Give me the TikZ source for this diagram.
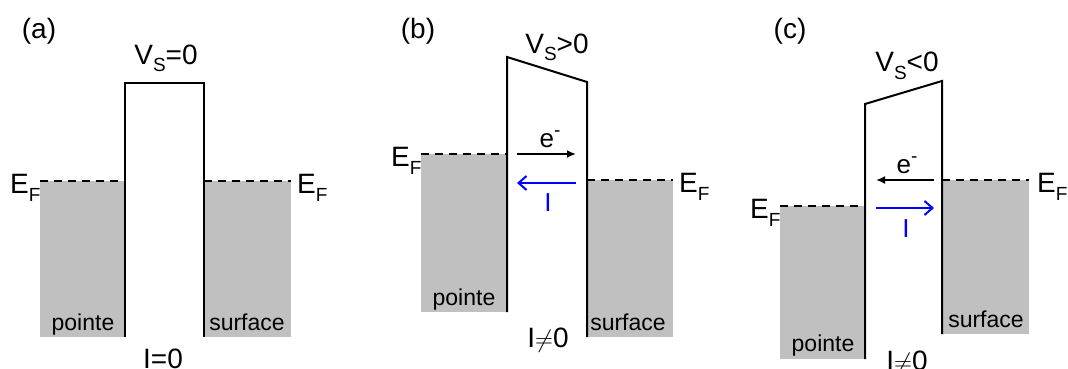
\documentclass[tikz,border=0pt]{standalone}
\usepackage{fontspec}
\setmainfont{Liberation Sans}
\usepackage{xcolor}
\usetikzlibrary{arrows.meta}
\definecolor{metalgray}{RGB}{192,192,192}
\newcommand{\lowidx}[1]{\raisebox{-8pt}{\fontsize{19}{19}\selectfont #1}}
\newcommand{\highidx}[1]{\raisebox{11pt}{\fontsize{19}{19}\selectfont #1}}

\begin{document}
\begin{tikzpicture}[
    x=1pt, y=-1pt,
    lbl/.style={inner sep=0pt, font=\fontsize{28}{30}\selectfont, anchor=base},
    level/.style={inner sep=0pt, font=\fontsize{28}{30}\selectfont, anchor=base west},
    side/.style={inner sep=0pt, font=\fontsize{23}{25}\selectfont, anchor=base},
    carrier/.style={inner sep=0pt, font=\fontsize{26}{28}\selectfont, anchor=base},
    metal/.style={fill=metalgray, draw=none},
    wall/.style={line width=2pt, line join=miter},
    fermi/.style={line width=2pt, dash pattern=on 8pt off 6pt},
    electron/.style={line width=2pt, -{Latex[length=9pt,width=8pt]}},
    current/.style={line width=2pt, blue, -{Straight Barb[length=8pt,width=14pt]}}
]
\useasboundingbox (0,0) rectangle (1068,369);

% (a) no bias
\fill[metal] (40,181) rectangle (125,337);
\fill[metal] (204,181) rectangle (291,337);
\draw[fermi] (40,181) -- (125,181);
\draw[fermi] (204,181) -- (291,181);
\draw[wall] (125,337) -- (125,83) -- (204,83) -- (204,337);
\node[lbl] (ta) at (39,39) {(a)};
\node[lbl] (va) at (166,64) {V\lowidx{S}=0};
\node[level] (efa-l) at (10,193) {E\lowidx{F}};
\node[level] (efa-r) at (297,193) {E\lowidx{F}};
\node[side] (tipa) at (83,330) {pointe};
\node[side] (sura) at (247,330) {surface};
\node[lbl] (ia) at (163,368) {I=0};

% (b) positive bias
\fill[metal] (421,154) rectangle (507,312);
\fill[metal] (587,180) rectangle (673,337);
\draw[fermi] (421,154) -- (507,154);
\draw[fermi] (587,180) -- (673,180);
\draw[wall] (507,312) -- (507,57) -- (587,82) -- (587,337);
\node[lbl] (tb) at (418,39) {(b)};
\node[lbl] (vb) at (557,53) {V\lowidx{S}>0};
\node[level] (efb-l) at (391,166) {E\lowidx{F}};
\node[level] (efb-r) at (679,192) {E\lowidx{F}};
\node[side] (tipb) at (464,305) {pointe};
\node[side] (surb) at (628,330) {surface};
\node[lbl] (ib) at (548,347) {I$\neq$0};
\coordinate (b-l1) at (517,154);
\coordinate (b-r1) at (576,154);
\coordinate (b-l2) at (517,183);
\coordinate (b-r2) at (576,183);
\draw[electron] (b-l1) -- (b-r1);
\draw[current] (b-r2) -- (b-l2);
\node[carrier] (eb) at (550,147) {e\highidx{-}};
\node[carrier, blue] (cb) at (548,211) {I};

% (c) negative bias
\fill[metal] (780,206) rectangle (865,359);
\fill[metal] (942,180) rectangle (1029,334);
\draw[fermi] (780,206) -- (865,206);
\draw[fermi] (942,180) -- (1029,180);
\draw[wall] (865,359) -- (865,104) -- (942,81) -- (942,334);
\node[lbl] (tc) at (790,39) {(c)};
\node[lbl] (vc) at (907,72) {V\lowidx{S}<0};
\node[level] (efc-l) at (750,218) {E\lowidx{F}};
\node[level] (efc-r) at (1037,192) {E\lowidx{F}};
\node[side] (tipc) at (823,351) {pointe};
\node[side] (surc) at (986,327) {surface};
\node[lbl] (ic) at (907,370) {I$\neq$0};
\coordinate (c-l1) at (876,180);
\coordinate (c-r1) at (934,180);
\coordinate (c-l2) at (876,208);
\coordinate (c-r2) at (934,208);
\draw[electron] (c-r1) -- (c-l1);
\draw[current] (c-l2) -- (c-r2);
\node[carrier] (ec) at (907,173) {e\highidx{-}};
\node[carrier, blue] (cc) at (906,237) {I};

\end{tikzpicture}
\end{document}
